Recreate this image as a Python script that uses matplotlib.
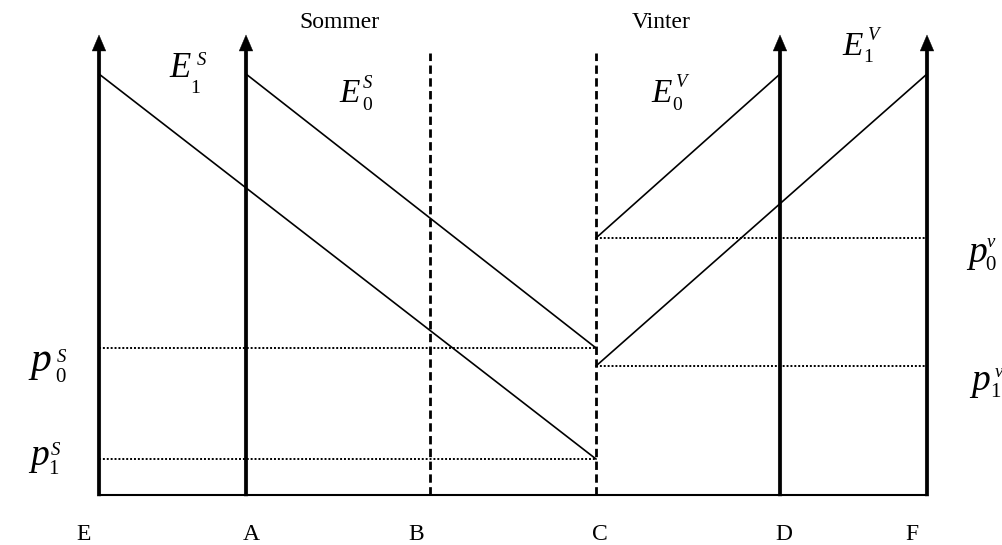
import matplotlib
matplotlib.use("Agg")
import matplotlib.pyplot as plt

plt.rcParams['font.family'] = ['Liberation Serif', 'DejaVu Serif']

# --- data -------------------------------------------------------------
axis_names = ['E', 'A', 'B', 'C', 'D', 'F']
axis_x = [99, 246, 430, 596, 780, 927]          # horizontal positions of the axes
solid_axes = ['E', 'A', 'D', 'F']               # arrow axes
dashed_axes = ['B', 'C']

line_top = 421      # value where demand lines meet the axes
arrow_top = 460
dash_top = 442

p0S, p1S = 147, 36   # summer prices
p0V, p1V = 257, 129  # winter prices

# demand lines: (from axis, value) -> (to axis, value)
demand_lines = {
    'E1S': (('E', line_top), ('C', p1S)),
    'E0S': (('A', line_top), ('C', p0S)),
    'E0V': (('C', p0V), ('D', line_top)),
    'E1V': (('C', p1V), ('F', line_top)),
}
price_lines = {
    'p0S': ('E', 'C', p0S),
    'p1S': ('E', 'C', p1S),
    'p0v': ('C', 'F', p0V),
    'p1v': ('C', 'F', p1V),
}
# ----------------------------------------------------------------------

X = dict(zip(axis_names, axis_x))


def py(v):
    """convert pixel row to data value"""
    return 495 - v


fig = plt.figure(figsize=(10.02, 5.45), dpi=100)
ax = fig.add_axes([0, 0, 1, 1])
ax.set_xlim(0, 1002)
ax.set_ylim(-50, 495)
ax.axis('off')

# baseline
ax.plot([X['E'], X['F']], [0, 0], color='black', lw=1.5, solid_capstyle='butt')

# arrow axes
for n in solid_axes:
    ax.annotate('', xy=(X[n], arrow_top), xytext=(X[n], -1),
                arrowprops=dict(facecolor='black', edgecolor='black', lw=0.3,
                                width=2.6, headwidth=9.8, headlength=11.5,
                                shrink=0))

# dashed axes
for n in dashed_axes:
    ax.plot([X[n], X[n]], [0, dash_top], color='black', lw=2.0,
            linestyle=(0, (3, 1.6)))

# demand lines
for lab, ((a1, v1), (a2, v2)) in demand_lines.items():
    ax.plot([X[a1], X[a2]], [v1, v2], color='black', lw=1.2)

# price lines
for lab, (a1, a2, v) in price_lines.items():
    ax.plot([X[a1], X[a2]], [v, v], color='black', lw=1.4, linestyle=(0, (1, 1)))


def compose(main, sub, sup, main_xy, sub_xy, sup_xy, main_fs, sub_fs=14, sup_fs=13.5):
    ax.text(main_xy[0], py(main_xy[1]), main, fontsize=main_fs, style='italic',
            ha='left', va='baseline')
    ax.text(sub_xy[0], py(sub_xy[1]), sub, fontsize=sub_fs,
            ha='left', va='baseline')
    ax.text(sup_xy[0], py(sup_xy[1]), sup, fontsize=sup_fs, style='italic',
            ha='left', va='baseline')


# demand line labels
compose('E', '1', 'S', (169, 77), (190, 93), (197, 65), 25)
compose('E', '0', 'S', (339, 102), (362, 110), (363, 88), 24)
compose('E', '0', 'V', (651, 102), (672, 110), (675, 87), 24)
compose('E', '1', 'V', (842, 55), (863, 62), (867, 40), 24)

# price labels
compose('p', '0', 'S', (30, 371), (55, 382), (57, 362), 30, sub_fs=15)
compose('p', '1', 'S', (30, 465), (48, 474), (51, 455), 27, sub_fs=15)
compose('p', '0', 'v', (968, 262), (985, 270), (987, 247), 27, sub_fs=15)
compose('p', '1', 'v', (971, 390), (990, 397), (995, 377), 27, sub_fs=15)

# bottom letters
bottom_pos = {'E': 84, 'A': 251, 'B': 416, 'C': 600, 'D': 784, 'F': 912}
for n, x in bottom_pos.items():
    ax.text(x, py(534), n, fontsize=17, ha='center', va='center')

ax.text(339, py(22), 'Sommer', fontsize=17, ha='center', va='center')
ax.text(661, py(22), 'Vinter', fontsize=17, ha='center', va='center')

fig.savefig('out.png', dpi=100)
